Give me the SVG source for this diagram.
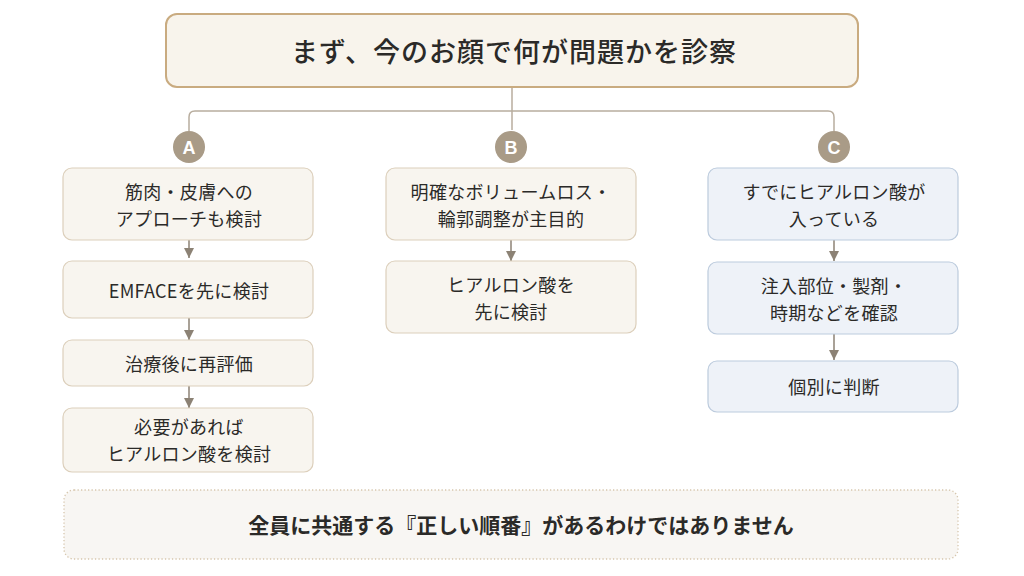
<svg xmlns="http://www.w3.org/2000/svg" width="1024" height="576" viewBox="0 0 1024 576">
<defs>
<marker id="ah" viewBox="0 0 10 10" refX="10" refY="5" markerWidth="10" markerHeight="10" markerUnits="userSpaceOnUse" orient="auto">
<path d="M0,0 L10,5 L0,10 z" fill="#8c8275"/>
</marker>
<style>
text{font-family:"Noto Sans CJK JP","Noto Sans",sans-serif;fill:#2b2a28;text-anchor:middle;dominant-baseline:central}
.t{font-size:18px;font-weight:400;letter-spacing:0.3px}
.title{font-size:27px;font-weight:500;letter-spacing:1px}
.foot{font-size:21px;font-weight:700}
.box{fill:#f8f5ef;stroke:#dccfbb;stroke-width:1.2}
.boxc{fill:#eef2f8;stroke:#bccbdd;stroke-width:1.2}
.badge{fill:#a99b87}
.bl{fill:#ffffff;font-size:18px;font-weight:700;font-family:"Liberation Sans",Arial,sans-serif}
.con{fill:none;stroke:#b8ad9e;stroke-width:1.5}
.arr{fill:none;stroke:#8c8275;stroke-width:1.5}
</style>
</defs>
<rect width="1024" height="576" fill="#ffffff"/>

<g id="connectors">
<path class="con" d="M512,87 V130"/>
<path class="con" d="M189,131 V117 Q189,111 195,111 H828 Q834,111 834,117 V131"/>
<path class="arr" d="M189,240 V258" marker-end="url(#ah)"/>
<path class="arr" d="M189,318 V340" marker-end="url(#ah)"/>
<path class="arr" d="M189,386 V408" marker-end="url(#ah)"/>
<path class="arr" d="M511,240 V261" marker-end="url(#ah)"/>
<path class="arr" d="M834,240 V261" marker-end="url(#ah)"/>
<path class="arr" d="M834,334 V360" marker-end="url(#ah)"/>
</g>

<g id="top">
<rect x="166" y="14" width="692" height="73" rx="11" fill="#f8f4ec" stroke="#c9ab80" stroke-width="2"/>
<text class="title" x="514" y="50">まず、今のお顔で何が問題かを診察</text>
</g>

<g id="badgeA"><circle class="badge" cx="189" cy="147" r="16"/><text class="bl" x="189" y="148">A</text></g>
<g id="badgeB"><circle class="badge" cx="511" cy="147" r="16"/><text class="bl" x="511" y="148">B</text></g>
<g id="badgeC"><circle class="badge" cx="834" cy="147" r="16"/><text class="bl" x="834" y="148">C</text></g>

<g id="a1"><rect class="box" x="63" y="168" width="250" height="72" rx="9"/>
<text class="t" x="189" y="191">筋肉・皮膚への</text><text class="t" x="189" y="218">アプローチも検討</text></g>
<g id="a2"><rect class="box" x="63" y="261" width="250" height="57" rx="9"/>
<text class="t" x="189" y="290" letter-spacing="2">EMFACEを先に検討</text></g>
<g id="a3"><rect class="box" x="63" y="340" width="250" height="46" rx="9"/>
<text class="t" x="189" y="363">治療後に再評価</text></g>
<g id="a4"><rect class="box" x="63" y="408" width="250" height="64" rx="9"/>
<text class="t" x="189" y="426">必要があれば</text><text class="t" x="189" y="453">ヒアルロン酸を検討</text></g>

<g id="b1"><rect class="box" x="386" y="168" width="250" height="72" rx="9"/>
<text class="t" x="511" y="191">明確なボリュームロス・</text><text class="t" x="511" y="218">輪郭調整が主目的</text></g>
<g id="b2"><rect class="box" x="386" y="261" width="250" height="72" rx="9"/>
<text class="t" x="511" y="284">ヒアルロン酸を</text><text class="t" x="511" y="311">先に検討</text></g>

<g id="c1"><rect class="boxc" x="708" y="168" width="250" height="72" rx="9"/>
<text class="t" x="834" y="191">すでにヒアルロン酸が</text><text class="t" x="834" y="218">入っている</text></g>
<g id="c2"><rect class="boxc" x="708" y="262" width="250" height="72" rx="9"/>
<text class="t" x="834" y="285">注入部位・製剤・</text><text class="t" x="834" y="312">時期などを確認</text></g>
<g id="c3"><rect class="boxc" x="708" y="361" width="250" height="51" rx="9"/>
<text class="t" x="834" y="386">個別に判断</text></g>

<g id="footer">
<rect x="64" y="490" width="894" height="69" rx="10" fill="#f8f6f3" stroke="#d6c6ad" stroke-width="1.3" stroke-dasharray="1.3 2.2"/>
<text class="foot" x="521" y="524">全員に共通する『正しい順番』があるわけではありません</text>
</g>
</svg>
